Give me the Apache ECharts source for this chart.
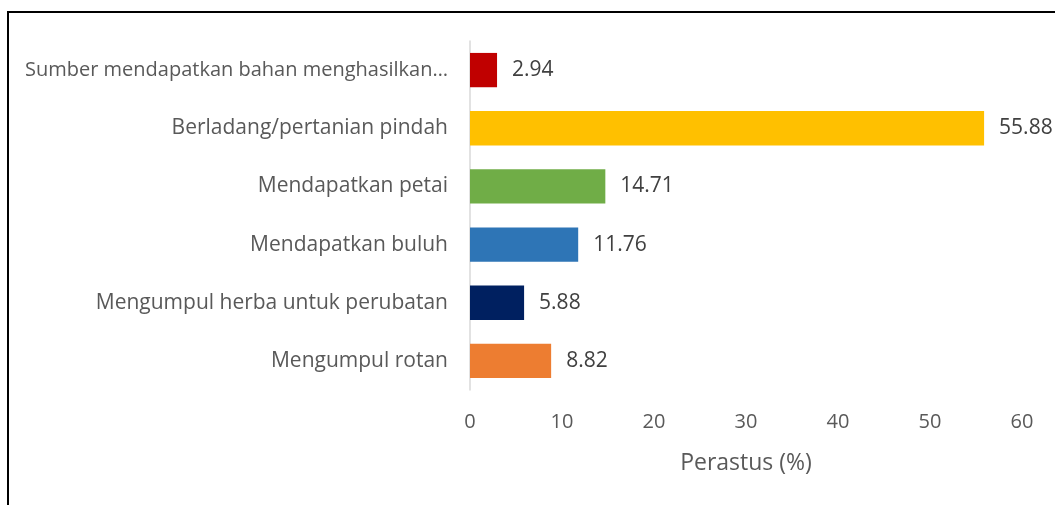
<!DOCTYPE html>
<html>
  <head>
    <meta charset="utf-8">
    <title>ECharts</title>
    <script src="https://cdn.jsdelivr.net/npm/echarts@6/dist/echarts.min.js"></script>
    <style>
      body { margin: 0; background: #fff; }
      #frame { position: absolute; left: 7px; top: 11px; width: 1100px; height: 600px; border-left: 2px solid #000; border-top: 2px solid #000; }
    </style>
  </head>
  <body>
    <div id="main" style="width: 1055px;height:505px;"></div>
    <div id="frame"></div>
    <script type="text/javascript">
      // kategori dari bawah ke atas
      var categories = ['Mengumpul rotan', 'Mengumpul herba untuk perubatan', 'Mendapatkan buluh',
        'Mendapatkan petai', 'Berladang/pertanian pindah', 'Sumber mendapatkan bahan menghasilkan…']
      var values = [8.82, 5.88, 11.76, 14.71, 55.88, 2.94]
      var colors = ['#ED7D31', '#002060', '#2E75B6', '#70AD47', '#FFC000', '#C00000']
      var xTicks = [0, 10, 20, 30, 40, 50, 60]

      var myChart = echarts.init(document.getElementById('main'));

      var option = {
        textStyle: { fontFamily: 'Open Sans' },
        grid: { left: 470, right: 33, top: 41, bottom: 115, containLabel: false },
        xAxis: {
          type: 'value',
          min: xTicks[0],
          max: xTicks[xTicks.length - 1],
          interval: 10,
          axisLine: { show: false },
          axisTick: { show: false },
          splitLine: { show: false },
          axisLabel: { color: '#595959', fontSize: 20, margin: 22 },
          name: 'Perastus (%)',
          nameLocation: 'middle',
          nameGap: 62,
          nameTextStyle: { color: '#595959', fontSize: 23 }
        },
        yAxis: {
          type: 'category',
          // label yang terpotong (…) sedikit dikecilkan supaya muat
          data: categories.map(c => c.endsWith('…') ? { value: c, textStyle: { fontSize: 20 } } : c),
          axisLine: { lineStyle: { color: '#D9D9D9', width: 1.5 } },
          axisTick: { show: false },
          axisLabel: { color: '#595959', fontSize: 21, margin: 22 }
        },
        series: [{
          type: 'bar',
          barCategoryGap: '41%',
          data: values.map((v, i) => ({ value: v, itemStyle: { color: colors[i] } })),
          label: {
            show: true,
            position: 'right',
            distance: 15,
            color: '#404040',
            fontSize: 21,
            formatter: p => p.value.toFixed(2)
          }
        }]
      };

      myChart.setOption(option);
    </script>
  </body>
</html>
